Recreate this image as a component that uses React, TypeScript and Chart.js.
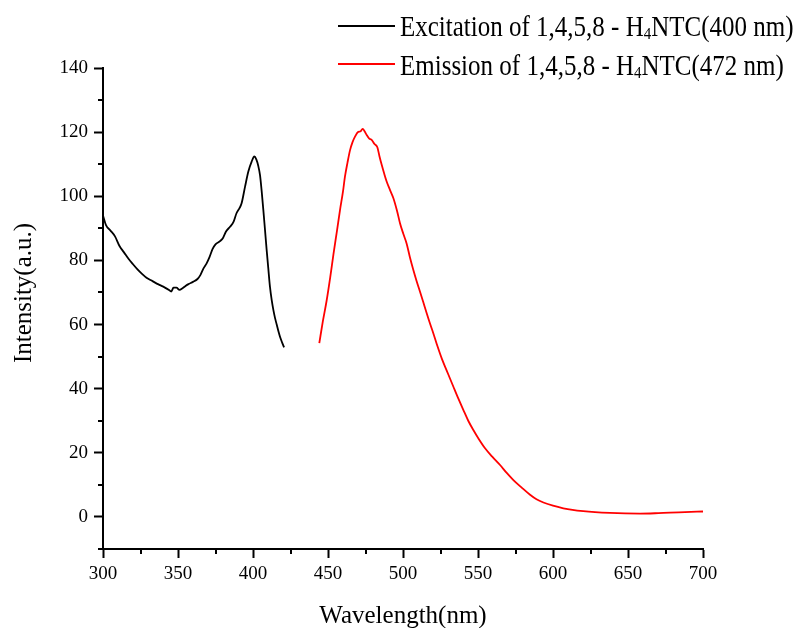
import React, { useEffect, useRef } from "react";
import { Chart, registerables } from "chart.js";

Chart.register(...registerables);

const excitationWavelengths = [
  300, 302, 305, 308, 311, 314, 317, 320, 323, 326, 329, 332, 335, 338, 341, 344, 345.5, 347, 349, 351,
  353, 355, 357, 360, 363, 365, 367, 369, 371, 373, 375, 378, 380, 382, 384.7, 387, 389, 391, 392.4, 394.7,
  396.9, 399.1, 400.9, 402.2, 403.5, 404.7, 405.8, 406.9, 408, 409.1, 410.2, 411.3, 412.5, 413.6, 414.7, 415.8,
  417, 418, 419.5, 420.7,
];
const excitationIntensity = [
  94, 91, 89.3, 87.5, 84.5, 82.5, 80.5, 78.8, 77.2, 75.8, 74.6, 73.8, 73, 72.3, 71.6, 70.8, 70.3, 71.5, 71.5, 70.8,
  71.3, 72, 72.6, 73.3, 74.2, 75.5, 77.5, 79, 81, 83.5, 85, 86, 87, 89, 90.5, 92, 94.7, 96.3, 97.8, 103,
  107.7, 110.8, 112.4, 111.5, 109.5, 106.5, 101.5, 95.7, 89.5, 83.3, 77.5, 71.8, 67.5, 64.5, 62, 60,
  57.8, 56.2, 54.3, 52.9,
];

const emissionWavelengths = [
  444.2, 446.5, 449.1, 451.5, 453.6, 456, 458, 460, 461.3, 463, 464.7, 466.3, 468, 470.2, 471.5, 473.1, 474.5,
  475.8, 477.5, 479.1, 481, 482.9, 484.3, 485.8, 487.5, 489.1, 491.3, 493.6, 496, 498, 500.2, 502.4, 504.6,
  506.9, 509.1, 511.3, 513.5, 515.8, 518, 520.2, 523, 526, 529, 533.6, 537, 540.2, 543.5, 546.9, 550.5, 554.7,
  559.5, 564.7, 569, 573.6, 579, 584.7, 589, 593.6, 600, 606.9, 613, 620.2, 628, 638, 648, 658, 668, 678, 688, 700,
];
const emissionIntensity = [
  54.2, 60.8, 67.5, 74.8, 81.8, 89.3, 95.7, 101.5, 106.1, 110.5, 114.4, 116.8, 118.6, 120.1, 120.2, 121, 120.2,
  119.1, 118, 117.6, 116.3, 115.3, 112.5, 109.8, 107, 104.6, 102, 99.4, 95.5, 91.6, 88.3, 85.3, 81,
  77, 73.5, 70.3, 67, 63.5, 60.3, 57.3, 53.2, 49.2, 45.8, 40.6, 36.8, 33.4, 30, 27.1, 24.3, 21.4,
  18.8, 16.2, 13.8, 11.5, 9.2, 6.9, 5.5, 4.5, 3.5, 2.7, 2.2, 1.8, 1.5, 1.25, 1.1, 1.05, 1.15, 1.35, 1.5, 1.7,
];

const xMajorTicks = [300, 350, 400, 450, 500, 550, 600, 650, 700];
const xMinorTicks = [325, 375, 425, 475, 525, 575, 625, 675];
const yMajorTicks = [0, 20, 40, 60, 80, 100, 120, 140];
const yMinorTicks = [-10, 10, 30, 50, 70, 90, 110, 130];

const seriesLabels = [
  ["Excitation of 1,4,5,8 - H", "4", "NTC(400 nm)"],
  ["Emission of 1,4,5,8 - H", "4", "NTC(472 nm)"],
];
const seriesColors = ["#000000", "#ff0000"];
const xTitle = "Wavelength(nm)";
const yTitle = "Intensity(a.u.)";

const FONT = "'Liberation Serif', 'Times New Roman', serif";

const decorPlugin = {
  id: "decor",
  afterDraw(chart: any) {
    const ctx = chart.ctx;
    const xs = chart.scales.x;
    const ys = chart.scales.y;
    const area = chart.chartArea;
    ctx.save();
    ctx.strokeStyle = "#000";
    ctx.lineWidth = 2;
    // minor ticks
    for (const v of xMinorTicks) {
      const px = Math.round(xs.getPixelForValue(v));
      ctx.beginPath();
      ctx.moveTo(px, area.bottom);
      ctx.lineTo(px, area.bottom + 5);
      ctx.stroke();
    }
    for (const v of yMinorTicks) {
      const py = Math.round(ys.getPixelForValue(v));
      ctx.beginPath();
      ctx.moveTo(area.left - 5, py);
      ctx.lineTo(area.left, py);
      ctx.stroke();
    }
    // axis titles
    ctx.fillStyle = "#000";
    ctx.font = `25px ${FONT}`;
    ctx.textAlign = "center";
    ctx.textBaseline = "alphabetic";
    ctx.fillText(xTitle, (area.left + area.right) / 2, 623);
    ctx.save();
    ctx.translate(31, 293);
    ctx.rotate(-Math.PI / 2);
    ctx.fillText(yTitle, 0, 0);
    ctx.restore();
    // legend
    const lineYs = [26, 64];
    const baseYs = [36, 75];
    seriesLabels.forEach((parts, i) => {
      const y = lineYs[i];
      ctx.strokeStyle = seriesColors[i];
      ctx.lineWidth = 2;
      ctx.beginPath();
      ctx.moveTo(338, y);
      ctx.lineTo(395, y);
      ctx.stroke();
      ctx.save();
      ctx.translate(0, baseYs[i]);
      ctx.scale(1, 1.15);
      ctx.fillStyle = "#000";
      ctx.textAlign = "left";
      ctx.textBaseline = "alphabetic";
      let x = 400;
      ctx.font = `25px ${FONT}`;
      ctx.fillText(parts[0], x, 0);
      x += ctx.measureText(parts[0]).width;
      ctx.font = `15px ${FONT}`;
      ctx.fillText(parts[1], x, 3);
      x += ctx.measureText(parts[1]).width;
      ctx.font = `25px ${FONT}`;
      ctx.fillText(parts[2], x, 0);
      ctx.restore();
    });
    ctx.restore();
  },
};

export default function App() {
  const ref = useRef<HTMLCanvasElement | null>(null);
  useEffect(() => {
    if (!ref.current) return;
    const chart = new Chart(ref.current, {
      type: "line",
      data: {
        datasets: [
          {
            label: "Excitation",
            data: excitationWavelengths.map((x, i) => ({ x, y: excitationIntensity[i] })),
            borderColor: seriesColors[0],
            borderWidth: 1.8,
            pointRadius: 0,
            cubicInterpolationMode: "monotone",
          },
          {
            label: "Emission",
            data: emissionWavelengths.map((x, i) => ({ x, y: emissionIntensity[i] })),
            borderColor: seriesColors[1],
            borderWidth: 1.8,
            pointRadius: 0,
            cubicInterpolationMode: "monotone",
          },
        ],
      },
      plugins: [decorPlugin],
      options: {
        animation: false,
        responsive: false,
        events: [],
        layout: { padding: { top: 68, right: 96, left: 0, bottom: 0 } },
        plugins: { legend: { display: false }, tooltip: { enabled: false } },
        scales: {
          x: {
            type: "linear",
            min: 300,
            max: 700,
            afterFit: (s: any) => {
              s.height = 79;
            },
            afterBuildTicks: (s: any) => {
              s.ticks = xMajorTicks.map((v) => ({ value: v }));
            },
            border: { display: true, color: "#000", width: 2 },
            grid: { drawOnChartArea: false, drawTicks: true, tickLength: 9, tickWidth: 2, tickColor: "#000" },
            ticks: { color: "#000", font: { family: FONT, size: 19 }, padding: 5, maxRotation: 0 },
          },
          y: {
            type: "linear",
            min: -10,
            max: 140,
            afterFit: (s: any) => {
              s.width = 103;
            },
            afterBuildTicks: (s: any) => {
              s.ticks = yMajorTicks.map((v) => ({ value: v }));
            },
            border: { display: true, color: "#000", width: 2 },
            grid: { drawOnChartArea: false, drawTicks: true, tickLength: 9, tickWidth: 2, tickColor: "#000" },
            ticks: { color: "#000", font: { family: FONT, size: 19 }, padding: 6 },
          },
        },
      },
    });
    return () => chart.destroy();
  }, []);
  return (
    <div style={{ position: "fixed", left: 0, top: 0, width: 799, height: 628, background: "#fff" }}>
      <canvas ref={ref} width={799} height={628} style={{ width: 799, height: 628 }} />
    </div>
  );
}
